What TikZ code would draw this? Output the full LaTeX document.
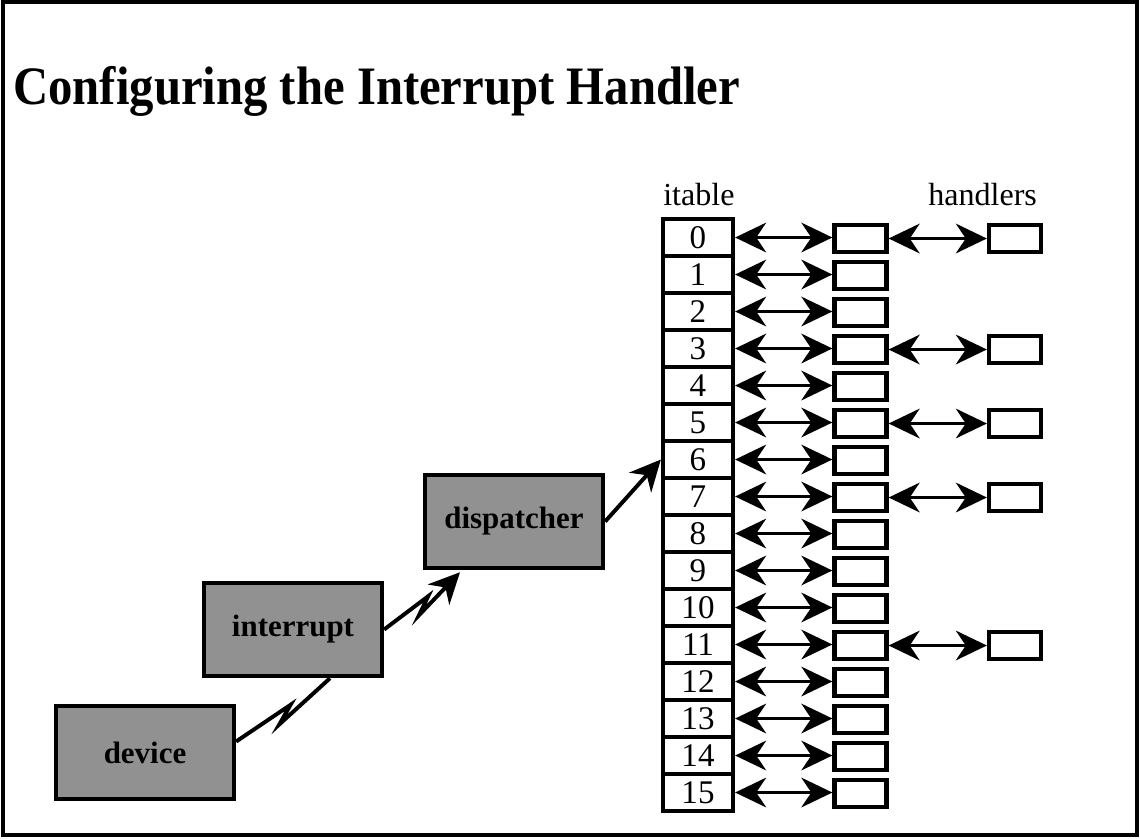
\documentclass[tikz,border=0pt]{standalone}
\usepackage{fontspec}
\setmainfont{Liberation Serif}
\newfontfamily\headfont[FakeStretch=0.9]{Liberation Serif}
\usepackage{tikz}
\usetikzlibrary{arrows.meta, positioning, calc}
\definecolor{mydark}{RGB}{0,0,0}
\definecolor{shade}{RGB}{145,145,145}
\tikzset{
  frame/.style={draw=mydark, line width=2.2pt},
  titletext/.style={anchor=base west, inner sep=0pt,
    font=\headfont\fontsize{38.5}{44}\selectfont\bfseries},
  lbl/.style={anchor=base west, inner sep=0pt,
    font=\fontsize{22.8}{26}\selectfont},
  shadebox/.style={rectangle, draw=mydark, fill=shade,
    minimum width=4.45cm, minimum height=2.33cm, line width=3pt,
    font=\fontsize{22}{26}\selectfont\bfseries},
  cell/.style={rectangle, draw=mydark, fill=white,
    minimum width=1.75cm, minimum height=0.925cm, inner sep=0pt,
    line width=3pt, font=\fontsize{23.5}{26}\selectfont},
  slot/.style={rectangle, draw=mydark, fill=white,
    minimum width=1.3cm, minimum height=0.66cm, inner sep=0pt,
    line width=3pt},
  dbl/.style={arrows={Stealth[length=22pt, width=21pt, inset=7pt]-Stealth[length=22pt, width=21pt, inset=7pt]},
    line width=2.8pt, color=mydark},
  arrow/.style={arrows={-Stealth[length=22pt, width=21pt, inset=7pt]},
    line width=2.8pt, color=mydark},
  zapline/.style={line width=2.8pt, color=mydark, line join=miter},
  zap/.style={to path={-- ($(\tikztostart)!0.58!(\tikztotarget)$)
    -- ($(\tikztostart)!0.46!(\tikztotarget)+(0,12)$) -- (\tikztotarget)}}
}
\begin{document}
\begin{tikzpicture}[x=0.025cm, y=-0.025cm]
  \useasboundingbox (0,0) rectangle (1140,838);
  % Frame
  \draw[frame] (3,2) rectangle (1137,835);
  % Title
  \node[titletext] (title) at (13,104) {Configuring the Interrupt Handler};
  % Path of the interrupt
  \node[shadebox] (dev) at (145,752.5) {device};
  \node[shadebox] (intr) at (293,629.5) {interrupt};
  \node[shadebox] (disp) at (514,521.5) {dispatcher};
  % Table of handlers
  \node[lbl] (itlbl) at (663,205) {itable};
  \node[lbl] (hdlbl) at (928,205) {handlers};
  \foreach \i in {0,...,15} {
    \node[cell] (row\i) at (698,{237.5+37*\i}) {\i};
    \node[slot] (mid\i) at (860.5,{238.5+37*\i}) {};
    \draw[dbl] (row\i.east) -- (row\i.east -| mid\i.west);
  }
  \foreach \i in {0,3,5,7,11} {
    \node[slot] (hnd\i) at (1015,{238.5+37*\i}) {};
    \draw[dbl] (mid\i.east) -- (hnd\i.west);
  }
  % Links
  \draw[zapline, zap] ($(dev.east)+(0,-11)$) to ($(intr.south)+(37,0)$);
  \draw[zapline, arrow, zap] (intr.east) to ($(disp.south)+(-54,2)$);
  \draw[arrow] (disp.east) -- (row6.west);
\end{tikzpicture}
\end{document}
